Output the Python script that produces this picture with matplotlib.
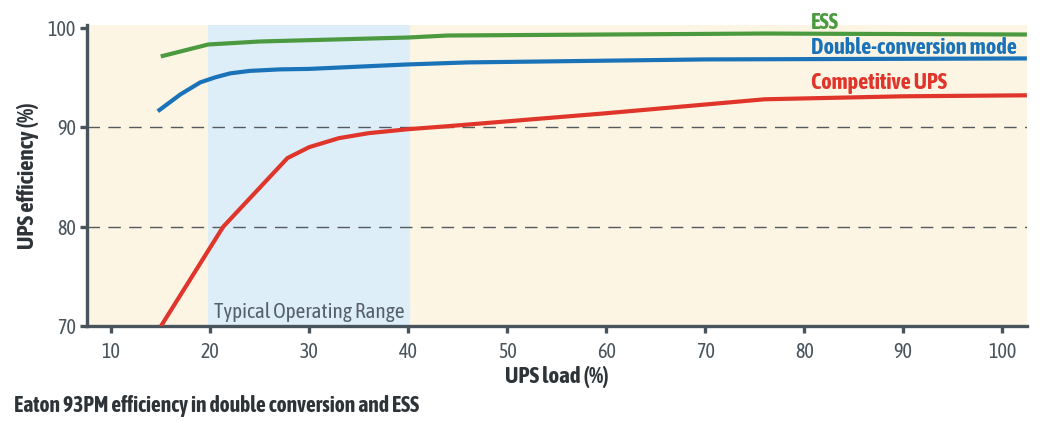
import matplotlib
matplotlib.use("Agg")
import matplotlib.pyplot as plt
from matplotlib import font_manager

# -----------------------------
# Data
# -----------------------------
ess_load = [15, 19.8, 25, 40, 44, 60, 76, 102.5]
ess_eff = [97.1, 98.3, 98.6, 99.0, 99.2, 99.3, 99.4, 99.3]

dc_load = [14.7, 17, 19, 20.5, 22, 24, 27, 30, 40, 46, 70, 102.5]
dc_eff = [91.6, 93.3, 94.5, 95.0, 95.4, 95.65, 95.8, 95.85, 96.3, 96.5, 96.8, 96.9]

comp_load = [15.0, 21.3, 27.8, 30, 33, 36, 40, 44, 60, 76, 90, 102.5]
comp_eff = [70.0, 80.0, 86.9, 88.0, 88.9, 89.4, 89.8, 90.1, 91.4, 92.8, 93.1, 93.2]

range_lo, range_hi = 19.8, 40.2
x_ticks = [10, 20, 30, 40, 50, 60, 70, 80, 90, 100]
y_ticks = [70, 80, 90, 100]

# -----------------------------
# Fonts: the original uses a condensed face (regular + bold)
# -----------------------------
weights = {}
for f in font_manager.fontManager.ttflist:
    if "Narrow" in f.name or "Condensed" in f.name:
        w = f.weight if isinstance(f.weight, int) else (700 if "bold" in str(f.weight) else 400)
        weights.setdefault(f.name, set()).add(w)

reg_family, reg_scale = "DejaVu Sans", 0.86
bold_family, bold_scale = "DejaVu Sans", 0.82
if weights:
    reg_family, reg_scale = sorted(weights)[0], 1.0
    with_bold = [n for n in sorted(weights) if max(weights[n]) >= 600]
    if with_bold:
        reg_family = with_bold[0]
        bold_family, bold_scale = with_bold[0], 1.0
plt.rcParams["font.family"] = [reg_family, "DejaVu Sans"]

def reg(size):
    return dict(family=[reg_family, "DejaVu Sans"], fontsize=size * reg_scale)

def bold(size):
    return dict(family=[bold_family, "DejaVu Sans"], fontsize=size * bold_scale,
                fontweight="bold")

c_green = "#4b9a3f"
c_blue = "#1a73b8"
c_red = "#e0352b"
c_axis = "#49535b"
c_cream = "#fdf5e4"
c_range = "#ddeef8"
c_text = "#2e3338"

fig = plt.figure(figsize=(10.42, 4.21), dpi=100)
ax = fig.add_axes([0.0835, 0.2245, 0.902, 0.716])
ax.set_facecolor(c_cream)

ax.axvspan(range_lo, range_hi, color=c_range, zorder=0, lw=0)
for yv in [80, 90]:
    ax.axhline(yv, color="#555a60", lw=1.0, dashes=(9, 6), zorder=1)

ax.plot(ess_load, ess_eff, color=c_green, lw=3, solid_capstyle="butt", zorder=3)
ax.plot(dc_load, dc_eff, color=c_blue, lw=3, solid_capstyle="butt", zorder=3)
ax.plot(comp_load, comp_eff, color=c_red, lw=3, solid_capstyle="butt", zorder=3)

ax.set_xlim(7.55, 102.5)
ax.set_ylim(70, 100.25)
ax.set_xticks(x_ticks)
ax.set_yticks(y_ticks)

for s in ["top", "right"]:
    ax.spines[s].set_visible(False)
for s in ["left", "bottom"]:
    ax.spines[s].set_color(c_axis)
    ax.spines[s].set_linewidth(2.4)
ax.tick_params(axis="both", colors=c_axis, width=2.4, length=5, labelcolor=c_axis)
ax.tick_params(axis="x", pad=6)
ax.tick_params(axis="y", pad=3)
for lab in ax.get_xticklabels() + ax.get_yticklabels():
    lab.set_fontsize(14.5 * reg_scale)

# series labels
ax.text(80.7, 100.45, "ESS", color=c_green, va="center", ha="left",
        clip_on=False, **bold(16))
ax.text(80.7, 97.95, "Double-conversion mode", color=c_blue, va="center",
        ha="left", **bold(16))
ax.text(80.7, 94.4, "Competitive UPS", color=c_red, va="center", ha="left",
        **bold(16))

ax.text((range_lo + range_hi) / 2, 71.5, "Typical Operating Range", color="#56606a",
        ha="center", va="center", **reg(15.3))

ax.set_xlabel("UPS load (%)", color=c_text, labelpad=3, **bold(16.5))
ax.set_ylabel("UPS efficiency (%)", color=c_text, labelpad=6, **bold(16.5))

fig.text(0.0135, 0.036, "Eaton 93PM efficiency in double conversion and ESS",
         color=c_text, ha="left", va="center", **bold(15.5))

fig.savefig("out.png", dpi=100, facecolor="white")
